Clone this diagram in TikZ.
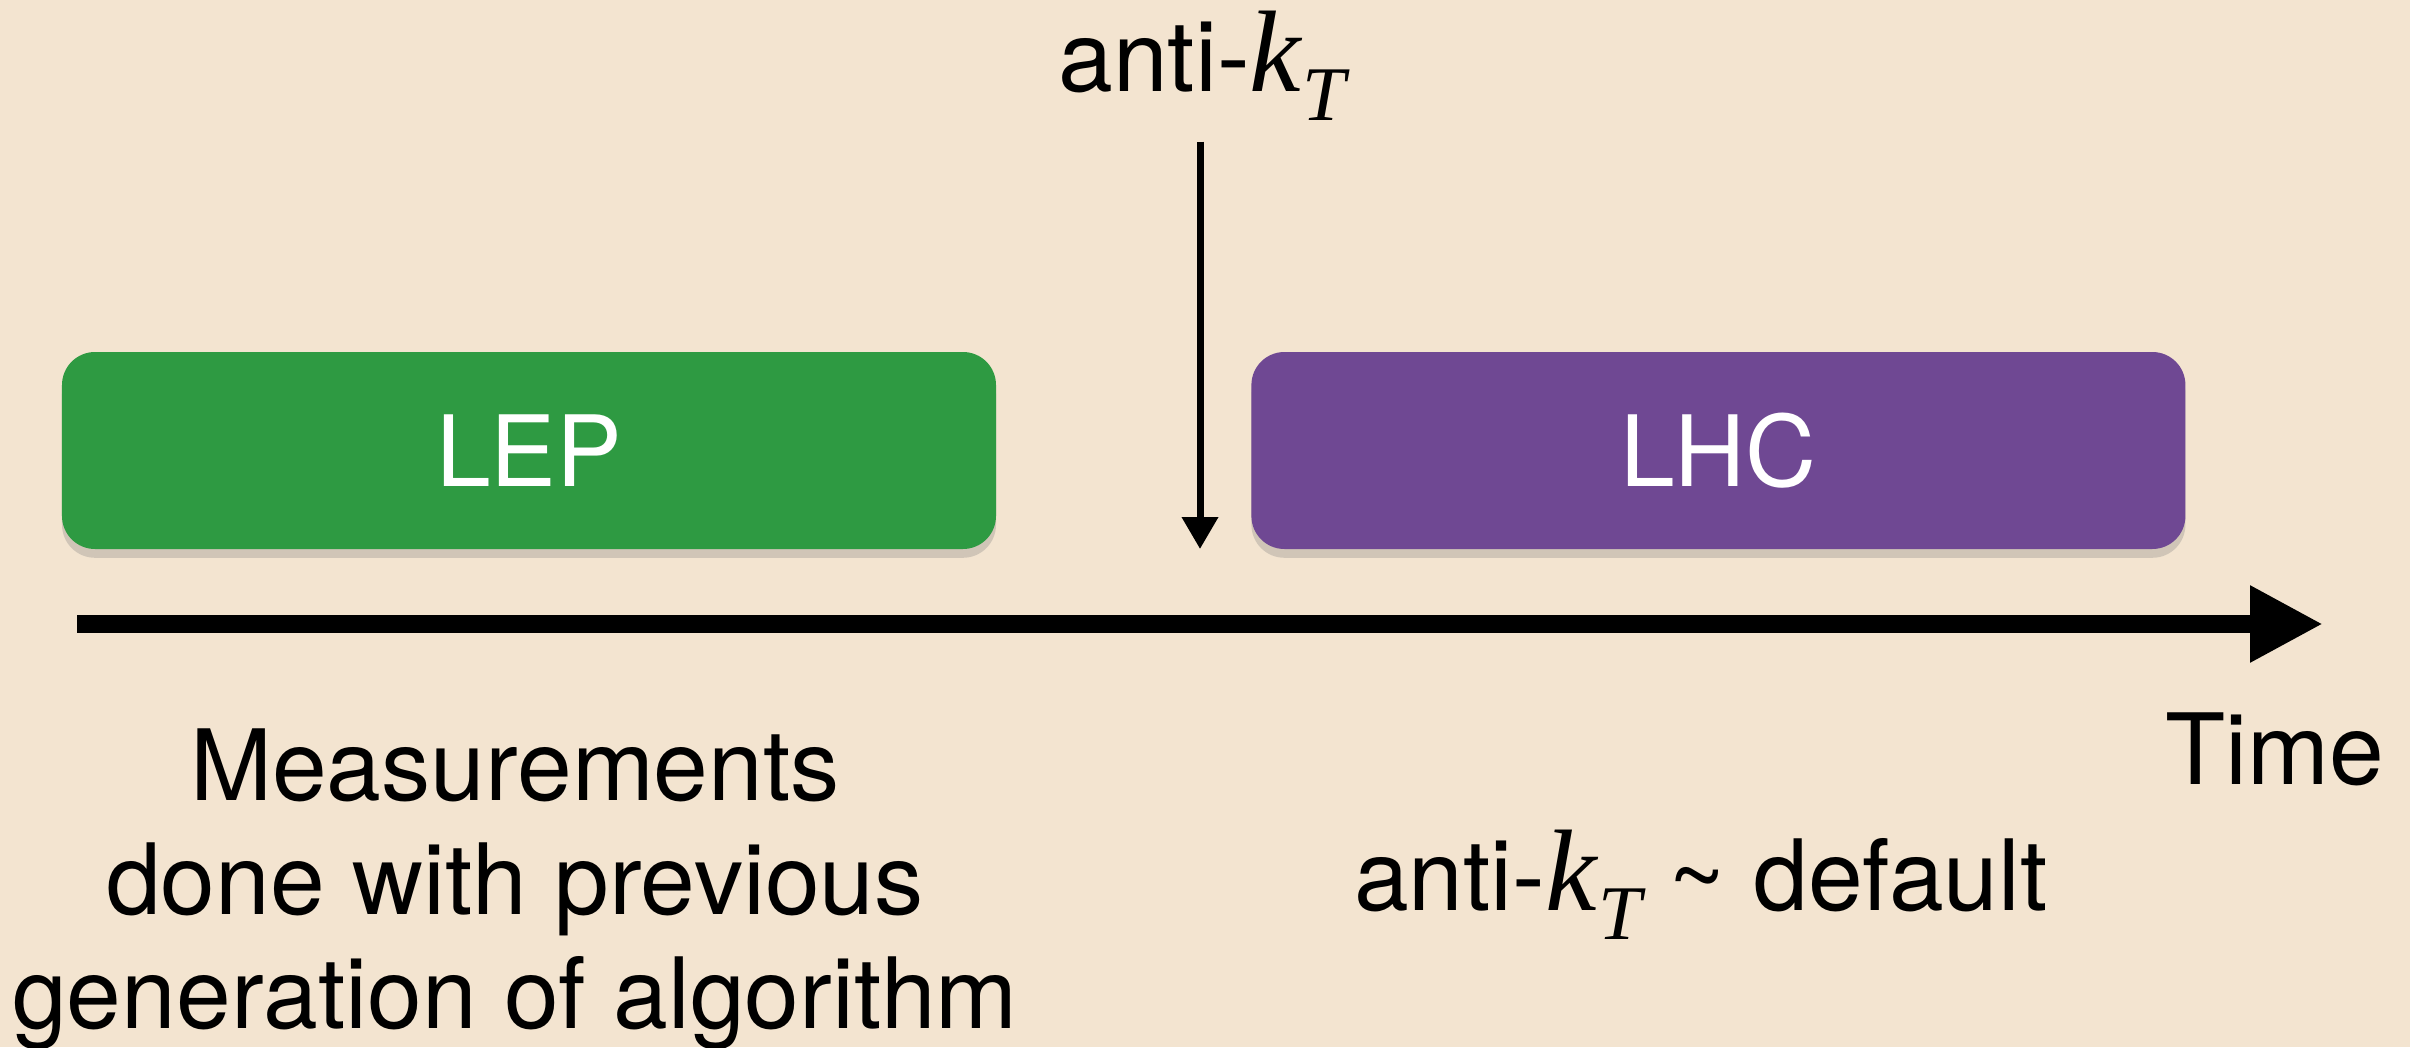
\documentclass[tikz,border=0pt]{standalone}
\usepackage{fontspec}
\setmainfont{TeX Gyre Heros}
\newfontfamily\ktfont{Liberation Serif}
\usetikzlibrary{arrows.meta,positioning,shadows}
\definecolor{wood}{HTML}{F3E4D0}
\definecolor{lepgreen}{HTML}{2E9A42}
\definecolor{lhcpurple}{HTML}{6F4893}
\newcommand{\kT}{{\ktfont\itshape\fontsize{33}{33}\selectfont k\kern0.01em\raisebox{-0.25em}{\fontsize{22}{22}\selectfont T}}}
\tikzset{
  erabox/.style={rounded corners=0.33cm, minimum width=9.34cm, minimum height=1.97cm,
    text=white, font=\fontsize{28}{32.4}\selectfont,
    drop shadow={shadow xshift=0pt, shadow yshift=-2.5pt, opacity=0.3}},
  lepbox/.style={erabox, fill=lepgreen},
  lhcbox/.style={erabox, fill=lhcpurple},
  txt/.style={inner sep=0pt, font=\fontsize{28}{32.4}\selectfont},
  timearr/.style={-{Triangle[length=0.73cm, width=0.72cm]}, line width=0.18cm},
  markarr/.style={-{Triangle[length=0.32cm, width=0.35cm]}, line width=0.07cm}
}
\begin{document}
\begin{tikzpicture}[node distance=2.54cm]
    \useasboundingbox (0,0) rectangle (24.1,10.47);
    \fill[wood] (0,0) rectangle (24.1,10.47);
    \node[lepbox] (lep) at (5.29,5.965) {LEP};
    \node[lhcbox, right=of lep] (lhc) {LHC};
    \coordinate (t0) at (0.77,4.23);
    \coordinate (t1) at (23.23,4.23);
    \draw[timearr] (t0) -- (t1);
    \node[txt, anchor=base] (antikt) at (12.02,9.55) {anti-\kT};
    \coordinate (kbot) at (12.0,4.98);
    \draw[markarr, shorten <=0.2cm] (antikt.south -| kbot) -- (kbot);
    \node[txt, anchor=base] (time) at (22.75,2.63) {Time};
    \node[txt, align=center] (lepnote) at (5.15,1.58) {Measurements\\done with previous\\generation of algorithm};
    \node[txt, anchor=base] (lhcnote) at (17.01,1.37) {anti-\kT{} \textasciitilde{} default};
\end{tikzpicture}
\end{document}
